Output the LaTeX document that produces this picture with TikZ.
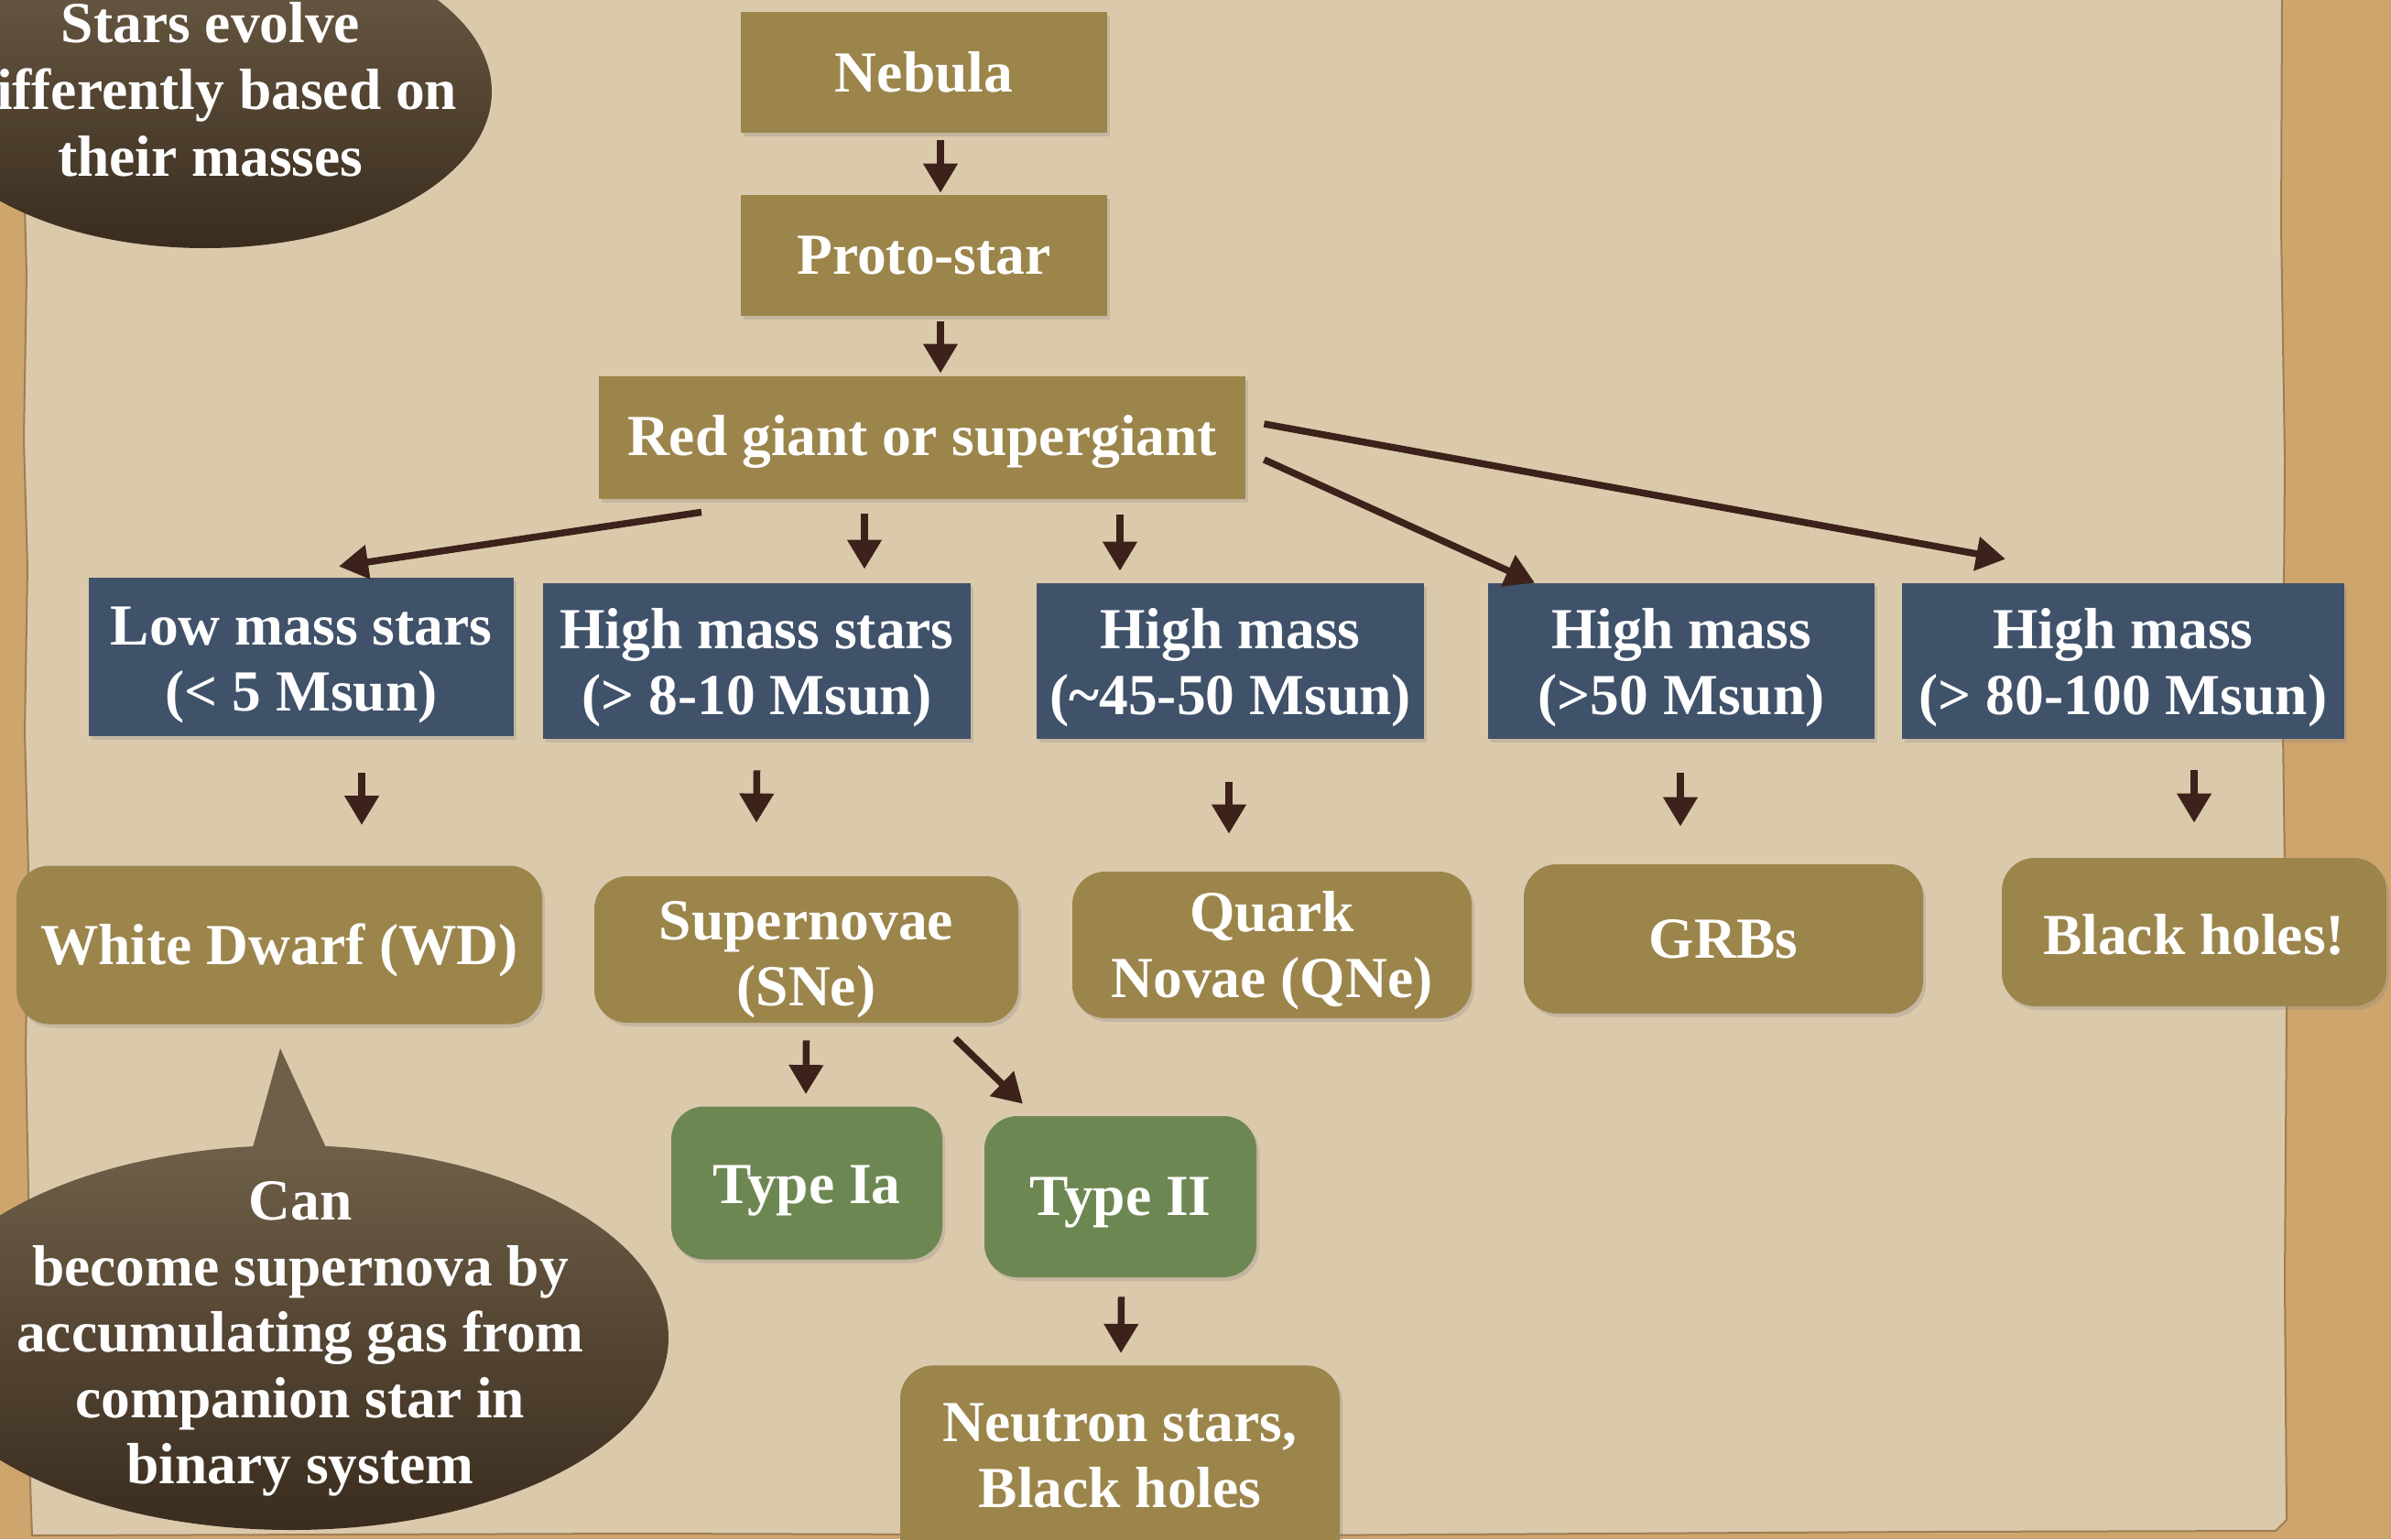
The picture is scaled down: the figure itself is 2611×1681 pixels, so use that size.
\documentclass[tikz,border=0pt]{standalone}
\usepackage{fontspec}
\setmainfont{Liberation Serif}
\usetikzlibrary{arrows.meta,calc,shadows}
\definecolor{paper}{HTML}{DBC9AC}
\definecolor{cork}{HTML}{CFA56E}
\definecolor{olive}{HTML}{9C854B}
\definecolor{slate}{HTML}{40526A}
\definecolor{moss}{HTML}{6D8752}
\definecolor{arrowc}{HTML}{3C221A}
\definecolor{bubtop}{HTML}{6E5F48}
\definecolor{bubbot}{HTML}{3A2C1E}
\definecolor{edgec}{HTML}{9E7E52}
\begin{document}
\begin{tikzpicture}[x=0.5pt,y=-0.5pt,
  txt/.style={text=white, font=\bfseries\fontsize{31.75pt}{36pt}\selectfont, align=center, inner sep=0pt},
  boxbase/.style={txt, draw=none, drop shadow={shadow xshift=1.5pt, shadow yshift=-2pt, opacity=0.25}},
  sqolive/.style={boxbase, fill=olive, rectangle},
  sqslate/.style={boxbase, fill=slate, rectangle},
  rdolive/.style={boxbase, fill=olive, rounded corners=18pt},
  rdmoss/.style={boxbase, fill=moss, rounded corners=18pt},
  sz/.style 2 args={minimum width={#1*0.5pt}, minimum height={#2*0.5pt}},
  textdown/.style={execute at begin node={\rule{0pt}{#1}}},
  arr/.style={draw=arrowc, line width=3.75pt, -{Triangle[width=18pt,length=16pt]}},
]
\useasboundingbox (0,0) rectangle (2611,1681);
\clip (0,0) rectangle (2611,1681);
% background
\fill[cork] (0,0) rectangle (2611,1681);
\fill[paper] (27,-5) -- (25,150) -- (29,300) -- (26,480) -- (30,620) -- (27,800) -- (31,950)
  -- (28,1150) -- (32,1350) -- (30,1500) -- (33,1620) -- (35,1677) -- (700,1675) -- (1400,1677)
  -- (2100,1673) -- (2485,1672) -- (2497,1660) -- (2495,1400) -- (2497,1100) -- (2493,800)
  -- (2495,500) -- (2491,250) -- (2492,-5) -- cycle;
\draw[edgec, line width=1pt] (27,-5) -- (25,150) -- (29,300) -- (26,480) -- (30,620) -- (27,800) -- (31,950)
  -- (28,1150) -- (32,1350) -- (30,1500) -- (33,1620) -- (35,1677) -- (700,1675) -- (1400,1677)
  -- (2100,1673) -- (2485,1672) -- (2497,1660) -- (2495,1400) -- (2497,1100) -- (2493,800)
  -- (2495,500) -- (2491,250) -- (2492,-5);
% bubbles
\shade[top color=bubtop, bottom color=bubbot] (224,100) ellipse [x radius=156.5pt, y radius=85.5pt];
\node[txt, font=\bfseries\fontsize{31.75pt}{36.5pt}\selectfont] (bub1) at (230,98) {Stars evolve\\differently based on\\their masses};
\fill[bubtop] (306,1145) -- (270,1275) -- (366,1275) -- cycle;
\shade[top color=bubtop, bottom color=bubbot] (318,1461) ellipse [x radius=206pt, y radius=105pt];
\node[txt] (bub2) at (328,1462) {Can\\become supernova by\\accumulating gas from\\companion star in\\binary system};
% nodes
\node[sqolive, sz={400}{132}] (nebula) at (1009,79) {Nebula};
\node[sqolive, sz={400}{132}] (proto) at (1009,279) {Proto-star};
\node[sqolive, sz={706}{134}, textdown=27pt] (red) at (1007,478) {Red giant or supergiant};
\node[sqslate, sz={464}{173}, textdown=66pt] (low) at (329,717.5) {Low mass stars\\(< 5 Msun)};
\node[sqslate, sz={467}{170}, textdown=65pt] (hm1) at (826.5,722) {High mass stars\\(> 8-10 Msun)};
\node[sqslate, sz={423}{170}, textdown=65pt] (hm2) at (1343.5,722) {High mass\\(\textasciitilde45-50 Msun)};
\node[sqslate, sz={422}{170}, textdown=65pt] (hm3) at (1836,722) {High mass\\(>50 Msun)};
\node[sqslate, sz={483}{170}, textdown=65pt] (hm4) at (2318.5,722) {High mass\\(> 80-100 Msun)};
\node[rdolive, sz={574}{173}, textdown=28pt] (wd) at (305,1032) {White Dwarf (WD)};
\node[rdolive, sz={463}{160}, textdown=68pt] (sne) at (880.5,1037) {Supernovae\\(SNe)};
\node[rdolive, sz={436}{160}, textdown=64.5pt] (qne) at (1389,1032) {Quark\\Novae (QNe)};
\node[rdolive, sz={436}{163}] (grb) at (1882,1025.5) {GRBs};
\node[rdolive, sz={420}{162}, textdown=25pt] (bh) at (2396,1018) {Black holes!};
\node[rdmoss, sz={296}{167}, textdown=29pt] (ia) at (881,1292) {Type Ia};
\node[rdmoss, sz={297}{176}, textdown=27.5pt] (ii) at (1223.5,1307) {Type II};
\node[rdolive, sz={480}{260}, anchor=north] (ns) at (1223,1491) {};
\node[txt] (nstext) at (1223,1590) {Neutron stars,\\Black holes};
% arrows
\draw[arr] ($(nebula.south)+(18,8)$) -- ($(proto.north)+(18,-2)$);
\draw[arr] ($(proto.south)+(18,6)$) -- ($(red.north)+(20,-3)$);
\draw[arr] ($(red.south)+(-241,14)$) -- ($(low.north)+(41,-12)$);
\draw[arr] ($(red.south)+(-63,16)$) -- ($(hm1.north)+(117.5,-15)$);
\draw[arr] ($(red.south)+(216,17)$) -- ($(hm2.north)+(-120.5,-13)$);
\draw[arr] ($(red.east)+(20,24)$) -- ($(hm3.north)+(-160,0)$);
\draw[arr] ($(red.east)+(20,-15)$) -- ($(hm4.north)+(-128.5,-26)$);
\draw[arr] ($(low.south)+(66,40)$) -- ($(wd.north)+(90,-44)$);
\draw[arr] ($(hm1.south)+(0,34)$) -- ($(sne.north)+(-54.5,-58)$);
\draw[arr] ($(hm2.south)+(-1.5,47)$) -- ($(qne.north)+(-47,-41)$);
\draw[arr] ($(hm3.south)+(-1,37)$) -- ($(grb.north)+(-47,-41)$);
\draw[arr] ($(hm4.south)+(77.5,34)$) -- ($(bh.north)+(0,-38)$);
\draw[arr] ($(sne.south)+(0,19)$) -- ($(ia.north)+(-1,-13)$);
\draw[arr] ($(sne.south)+(162.5,17)$) -- ($(ii.north)+(-106.5,-13)$);
\draw[arr] ($(ii.south)+(1,21)$) -- ($(ns.north)+(1,-13)$);
\end{tikzpicture}
\end{document}
